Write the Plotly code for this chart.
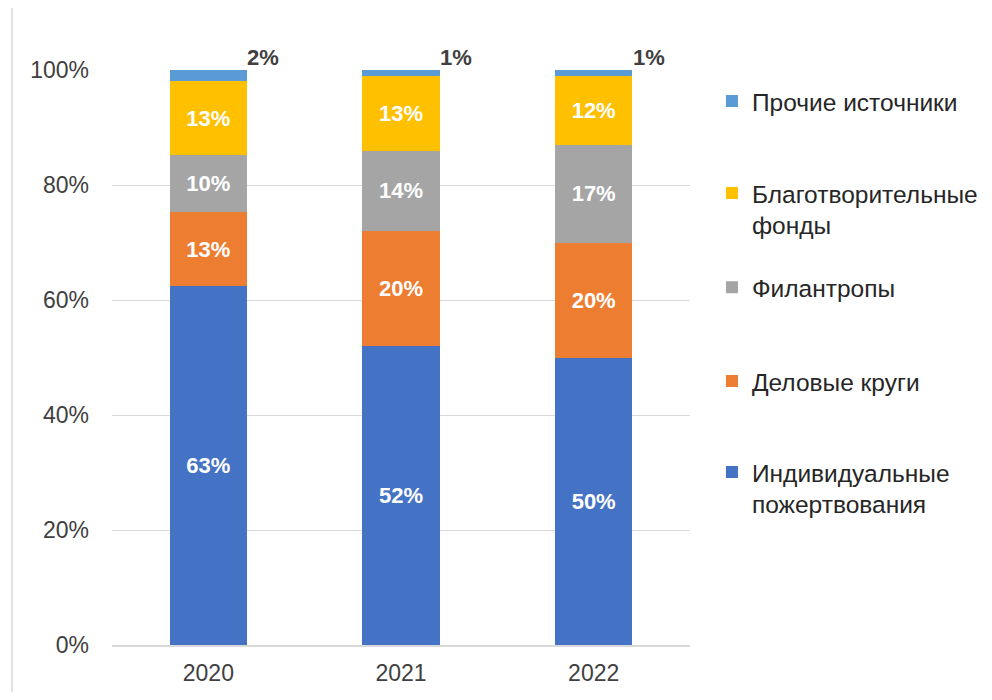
import plotly.graph_objects as go

years = ["2020", "2021", "2022"]
series_names = [
    "Индивидуальные<br>пожертвования",
    "Деловые круги",
    "Филантропы",
    "Благотворительные<br>фонды",
    "Прочие источники",
]
individual = [63, 52, 50]
business = [13, 20, 20]
philanthropists = [10, 14, 17]
funds = [13, 13, 12]
other = [2, 1, 1]
y_ticks = [0, 20, 40, 60, 80, 100]

colors = ["#4472C4", "#ED7D31", "#A5A5A5", "#FFC000", "#5B9BD5"]
all_values = [individual, business, philanthropists, funds, other]
# vertical placement (paper units) of each legend entry, one legend per series
legend_y = [0.273, 0.459, 0.622, 0.758, 0.946]

FONT = "Liberation Sans, Arial"

fig = go.Figure()
n = len(all_values)
legend_layout = {}
for i, (name, vals, col) in enumerate(zip(series_names, all_values, colors)):
    is_top = i == n - 1
    lname = "legend" if i == 0 else f"legend{i + 1}"
    fig.add_trace(go.Bar(
        x=years, y=vals, name=name, marker_color=col,
        marker_line_width=0, legend=lname,
        text=["" for v in vals] if is_top else [f"<b>{v}%</b>" for v in vals],
        textposition="inside", insidetextanchor="middle",
        textfont=dict(color="white", size=22, family=FONT),
    ))
    legend_layout[lname] = dict(x=1.038, y=legend_y[i], xanchor="left", yanchor="middle",
                                bgcolor="rgba(0,0,0,0)", valign="top",
                                font=dict(size=24.5, color="#262626", family=FONT))

# labels of the small top segment, placed to the right above the bar
for idx, v in enumerate(other):
    fig.add_annotation(x=idx, y=100, text=f"<b>{v}%</b>", showarrow=False,
                       xshift=55, yshift=13,
                       font=dict(color="#404040", size=22, family=FONT))

fig.add_shape(type="line", xref="paper", yref="paper", x0=-0.173, x1=-0.173, y0=-0.09, y1=1.11,
              line=dict(color="#D9D9D9", width=1.5))

fig.update_layout(
    width=976, height=684,
    barmode="stack", barnorm="percent", bargap=0.6,
    plot_bgcolor="white", paper_bgcolor="white",
    margin=dict(l=104, r=294, t=62, b=47, autoexpand=False),
    font=dict(family=FONT, color="#404040", size=23),
    showlegend=True,
    xaxis=dict(type="category", range=[-0.5, 2.5], showline=True, linecolor="#D9D9D9",
               linewidth=1.5, ticks="", tickfont=dict(size=23, color="#404040"),
               ticklabelstandoff=7, automargin=False),
    yaxis=dict(range=[0, 100], tickvals=y_ticks, ticktext=[f"{t}%" for t in y_ticks],
               gridcolor="#D9D9D9", gridwidth=1.2, zeroline=False, automargin=False,
               tickfont=dict(size=23, color="#404040"), ticklabelstandoff=22),
    **legend_layout,
)

fig.write_html("out.html")
